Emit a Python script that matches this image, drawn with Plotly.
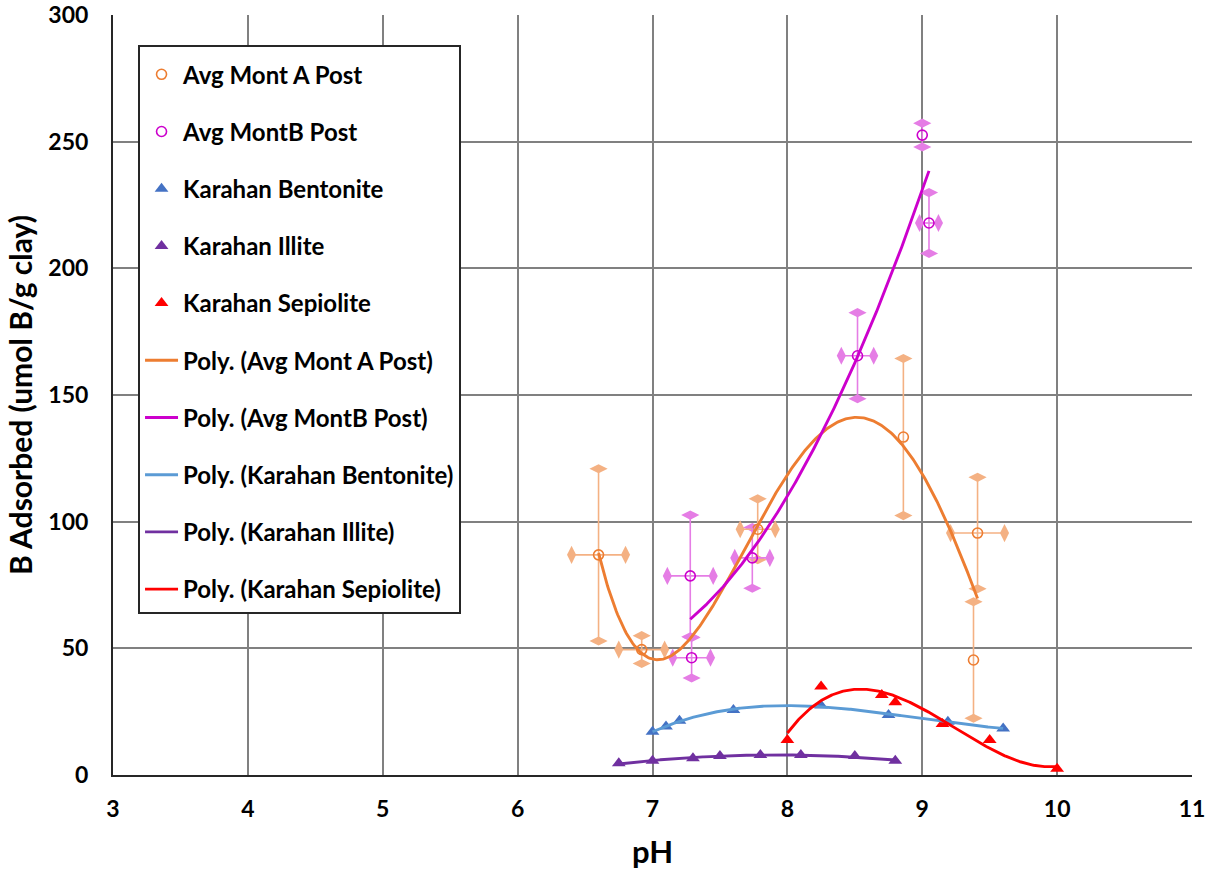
import numpy as np
import plotly.graph_objects as go

# ---------------- data ----------------
monta_x = [6.60, 6.92, 7.78, 8.86, 9.41, 9.38]
monta_y = [86.9, 49.5, 97.0, 133.4, 95.5, 45.4]
monta_yerr = [34.0, 5.5, 12.0, 31.0, 22.0, 23.0]
monta_xerr = [0.20, 0.17, 0.13, 0.0, 0.20, 0.0]

montb_x = [7.28, 7.29, 7.74, 8.52, 9.00, 9.05]
montb_y = [78.6, 46.3, 85.7, 165.5, 252.6, 217.9]
montb_yerr = [24.0, 8.0, 12.0, 17.0, 4.7, 12.0]
montb_xerr = [0.17, 0.14, 0.13, 0.12, 0.0, 0.07]

bent_x = [7.0, 7.1, 7.2, 7.6, 8.25, 8.75, 9.19, 9.6]
bent_y = [17.1, 19.1, 21.4, 25.7, 27.4, 23.7, 21.0, 18.4]

ill_x = [6.75, 7.0, 7.3, 7.5, 7.8, 8.1, 8.5, 8.8]
ill_y = [4.6, 5.6, 6.6, 7.5, 7.9, 7.9, 7.5, 5.6]

sep_x = [8.0, 8.25, 8.7, 8.8, 9.15, 9.5, 10.0]
sep_y = [13.8, 34.9, 31.6, 28.7, 20.1, 13.8, 2.5]

# polynomial trendline orders
ORDER_A, ORDER_B, ORDER_BENT, ORDER_ILL, ORDER_SEP = 4, 2, 3, 2, 3

FONT = "Lato"
C_A, C_A_ERR = "#ED7D31", "#F4B183"
C_B, C_B_ERR = "#CC00CC", "#E57DE5"
C_BENT_M, C_BENT_L = "#4472C4", "#5B9BD5"
C_ILL = "#7030A0"
C_SEP = "#FF0000"


def trend(x, y, order, n=300):
    c = np.polyfit(x, y, order)
    xs = np.linspace(min(x), max(x), n)
    return xs, np.polyval(c, xs)


fig = go.Figure()


def add_caps(x, y, xerr, yerr, color):
    # diamond end caps on error bars (Excel style)
    vx, vy = [], []
    for xi, yi, e in zip(x, y, yerr):
        if e > 0:
            vx += [xi, xi]
            vy += [yi + e, yi - e]
    hx, hy = [], []
    for xi, yi, e in zip(x, y, xerr):
        if e > 0:
            hx += [xi - e, xi + e]
            hy += [yi, yi]
    fig.add_trace(go.Scatter(x=vx, y=vy, mode="markers", showlegend=False, hoverinfo="skip",
                             marker=dict(symbol="diamond-wide", size=13, color=color, line=dict(width=0))))
    fig.add_trace(go.Scatter(x=hx, y=hy, mode="markers", showlegend=False, hoverinfo="skip",
                             marker=dict(symbol="diamond-tall", size=13, color=color, line=dict(width=0))))


add_caps(monta_x, monta_y, monta_xerr, monta_yerr, C_A_ERR)
add_caps(montb_x, montb_y, montb_xerr, montb_yerr, C_B_ERR)

fig.add_trace(go.Scatter(
    x=monta_x, y=monta_y, mode="markers", name="Avg Mont A Post", legendrank=1, legendgroup="g1",
    marker=dict(symbol="circle-open", size=10, color=C_A, line=dict(width=1.6)),
    error_y=dict(type="data", array=monta_yerr, color=C_A_ERR, thickness=1.6, width=0),
    error_x=dict(type="data", array=monta_xerr, color=C_A_ERR, thickness=1.6, width=0),
))
fig.add_trace(go.Scatter(
    x=montb_x, y=montb_y, mode="markers", name="Avg MontB Post", legendrank=2, legendgroup="g2",
    marker=dict(symbol="circle-open", size=10, color=C_B, line=dict(width=1.6)),
    error_y=dict(type="data", array=montb_yerr, color=C_B_ERR, thickness=1.6, width=0),
    error_x=dict(type="data", array=montb_xerr, color=C_B_ERR, thickness=1.6, width=0),
))
fig.add_trace(go.Scatter(
    x=bent_x, y=bent_y, mode="markers", name="Karahan Bentonite", legendrank=3, legendgroup="g3",
    marker=dict(symbol="triangle-up", size=12, color=C_BENT_M)))
fig.add_trace(go.Scatter(
    x=ill_x, y=ill_y, mode="markers", name="Karahan Illite", legendrank=4, legendgroup="g4",
    marker=dict(symbol="triangle-up", size=12, color=C_ILL)))
fig.add_trace(go.Scatter(
    x=sep_x, y=sep_y, mode="markers", name="Karahan Sepiolite", legendrank=5, legendgroup="g5",
    marker=dict(symbol="triangle-up", size=12, color=C_SEP)))

trends = [
    ("Poly. (Avg Mont A Post)", monta_x, monta_y, ORDER_A, C_A),
    ("Poly. (Avg MontB Post)", montb_x, montb_y, ORDER_B, C_B),
    ("Poly. (Karahan Bentonite)", bent_x, bent_y, ORDER_BENT, C_BENT_L),
    ("Poly. (Karahan Illite)", ill_x, ill_y, ORDER_ILL, C_ILL),
    ("Poly. (Karahan Sepiolite)", sep_x, sep_y, ORDER_SEP, C_SEP),
]
for i, (name, x, y, order, col) in enumerate(trends):
    xs, ys = trend(x, y, order)
    fig.add_trace(go.Scatter(x=xs, y=ys, mode="lines", name=name, legendrank=6 + i,
                             legendgroup="t%d" % i, line=dict(color=col, width=2.9)))

axis_common = dict(
    showgrid=True, gridcolor="#808080", gridwidth=1.5,
    showline=True, linecolor="#262626", linewidth=2,
    ticks="", zeroline=False, automargin=False,
    tickfont=dict(family=FONT, size=23, color="#000000", weight="bold"),
)

fig.update_layout(
    width=1214, height=871,
    margin=dict(l=113, r=22, t=15, b=96, autoexpand=False),
    paper_bgcolor="white", plot_bgcolor="white",
    font=dict(family=FONT, color="#000000"),
    xaxis=dict(range=[3, 11], dtick=1, tick0=3, ticklabelstandoff=12,
               title=dict(text="pH", font=dict(family=FONT, size=31, weight="bold"), standoff=21),
               **axis_common),
    yaxis=dict(range=[0, 300], dtick=50, tick0=0, ticklabelstandoff=18,
               title=dict(text="B Adsorbed (umol B/g clay)", font=dict(family=FONT, size=30, weight="bold"),
                          standoff=7),
               **axis_common),
    legend=dict(
        x=0.0232, y=0.9605, xanchor="left", yanchor="top",
        bgcolor="white", bordercolor="#262626", borderwidth=2,
        font=dict(family=FONT, size=24, color="#000000", weight="bold"),
        title=dict(text=" ", font=dict(size=4)),
        tracegroupgap=23, itemwidth=33, traceorder="grouped",
    ),
    showlegend=True,
)

fig.write_html("out.html")
